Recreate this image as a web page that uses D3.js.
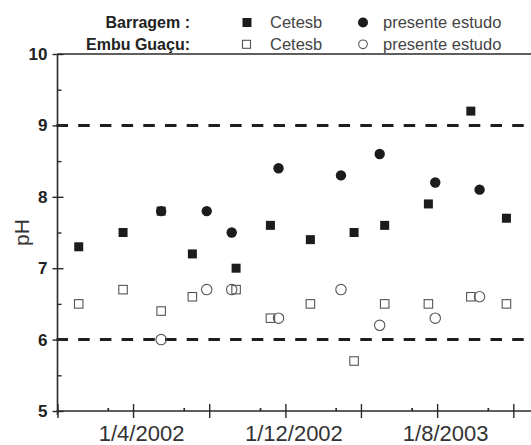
<!DOCTYPE html>
<html>
<head>
<meta charset="utf-8">
<script src="https://cdn.jsdelivr.net/npm/d3@7"></script>
<style>
  html, body { margin: 0; padding: 0; background: #fff; }
  svg { display: block; font-family: "Liberation Sans", Arial, sans-serif; }
</style>
</head>
<body>
<svg id="chart" width="531" height="445"></svg>
<script>
// ---------- data ----------
const cetesbDates = ["2002-01-04","2002-03-16","2002-05-16","2002-07-05","2002-09-13","2002-11-07",
                     "2003-01-10","2003-03-21","2003-05-09","2003-07-18","2003-09-24","2003-11-20"];
const barragemCetesb = [7.3, 7.5, 7.8, 7.2, 7.0, 7.6, 7.4, 7.5, 7.6, 7.9, 9.2, 7.7];
const embuCetesb     = [6.5, 6.7, 6.4, 6.6, 6.7, 6.3, 6.5, 5.7, 6.5, 6.5, 6.6, 6.5];

const studyDates = ["2002-05-16","2002-07-28","2002-09-06","2002-11-20",
                    "2003-02-28","2003-05-01","2003-07-29","2003-10-08"];
const barragemStudy = [7.8, 7.8, 7.5, 8.4, 8.3, 8.6, 8.2, 8.1];
const embuStudy     = [6.0, 6.7, 6.7, 6.3, 6.7, 6.2, 6.3, 6.6];

const xMajorTicks  = ["2001-12-01","2002-04-01","2002-08-01","2002-12-01","2003-04-01","2003-08-01","2003-12-01"];
const xTickLabels  = ["", "1/4/2002", "", "1/12/2002", "", "1/8/2003", ""];
const yMajorTicks  = [5, 6, 7, 8, 9, 10];
const yMinorTicks  = [5.5, 6.5, 7.5, 8.5, 9.5];
const limitLines   = [6, 9];

const legendGroups = ["Barragem :", "Embu Guaçu:"];
const legendSeries = ["Cetesb", "presente estudo"];
const yTitle = "pH";

// ---------- setup ----------
const W = 531, H = 445;
const parse = d3.utcParse("%Y-%m-%d");
const svg = d3.select("#chart");

const x = d3.scaleUtc()
  .domain([parse("2001-12-01"), parse("2003-12-01")])
  .range([57.5, 513.3]);
const y = d3.scaleLinear().domain([5, 10]).range([411, 54]);

const axisColor = "#2a2a2a";
const xLeft = x.range()[0], xRight = W;

// ---------- reference dashed lines ----------
svg.append("g").selectAll("line").data(limitLines).join("line")
  .attr("x1", xLeft - 1).attr("x2", xRight)
  .attr("y1", d => y(d)).attr("y2", d => y(d))
  .attr("stroke", "#1e1e1e").attr("stroke-width", 3)
  .attr("stroke-dasharray", "11.5,10.2");

// ---------- x axis ----------
const majorDates = xMajorTicks.map(parse);
const minorDates = [];
for (let i = 0; i < majorDates.length - 1; i++) {
  const interp = d3.interpolateDate(majorDates[i], majorDates[i + 1]);
  minorDates.push(interp(1 / 3), interp(2 / 3));
}
const gx = svg.append("g").attr("transform", `translate(0,${y(5)})`)
  .call(d3.axisBottom(x).tickValues(majorDates).tickSize(7).tickPadding(7)
        .tickFormat((d, i) => xTickLabels[i]));
gx.select(".domain").remove();
gx.append("line").attr("x1", xLeft - 1).attr("x2", xRight)
  .attr("stroke", axisColor).attr("stroke-width", 1.6);
gx.selectAll(".tick line").attr("stroke", axisColor).attr("stroke-width", 1.4)
  .attr("y1", -7).attr("y2", 7);
gx.selectAll(".tick text").attr("font-size", 22).attr("fill", "#333")
  .attr("dx", 8).attr("font-family", "'Liberation Sans', Arial, sans-serif");

const gxm = svg.append("g").attr("transform", `translate(0,${y(5)})`)
  .call(d3.axisTop(x).tickValues(minorDates).tickSize(3).tickFormat(""));
gxm.select(".domain").remove();
gxm.selectAll(".tick line").attr("stroke", axisColor).attr("stroke-width", 1.4);

// ---------- y axis ----------
const gy = svg.append("g").attr("transform", `translate(${xLeft},0)`)
  .call(d3.axisLeft(y).tickValues(yMajorTicks).tickSize(5).tickPadding(5).tickFormat(d3.format("d")));
gy.select(".domain").remove();
gy.append("line").attr("y1", y(10)).attr("y2", y(5) + 4)
  .attr("stroke", axisColor).attr("stroke-width", 1.6);
gy.selectAll(".tick line").attr("stroke", axisColor).attr("stroke-width", 1.4)
  .attr("x1", 6);
gy.selectAll(".tick text").attr("font-size", 17).attr("font-weight", "bold").attr("fill", "#222")
  .attr("font-family", "'Liberation Sans', Arial, sans-serif");

const gym = svg.append("g").attr("transform", `translate(${xLeft},0)`)
  .call(d3.axisRight(y).tickValues(yMinorTicks).tickSize(4).tickFormat(""));
gym.select(".domain").remove();
gym.selectAll(".tick line").attr("stroke", axisColor).attr("stroke-width", 1.4);

// top frame
svg.append("line").attr("x1", xLeft).attr("x2", xRight)
  .attr("y1", y(10)).attr("y2", y(10))
  .attr("stroke", axisColor).attr("stroke-width", 1.6);

// y title
svg.append("text").attr("transform", `translate(29,${(y(5) + y(10)) / 2}) rotate(-90)`)
  .attr("text-anchor", "middle").attr("font-size", 21).attr("fill", "#333")
  .text(yTitle);

// ---------- markers ----------
const sq = 9, sqOpen = 8.5, rFill = 5.2, rOpen = 5.2;
const cet = cetesbDates.map(parse), stu = studyDates.map(parse);

svg.append("g").selectAll("rect").data(barragemCetesb).join("rect")
  .attr("x", (d, i) => x(cet[i]) - sq / 2).attr("y", d => y(d) - sq / 2)
  .attr("width", sq).attr("height", sq).attr("fill", "#1c1c1c");

svg.append("g").selectAll("circle").data(barragemStudy).join("circle")
  .attr("cx", (d, i) => x(stu[i])).attr("cy", d => y(d)).attr("r", rFill)
  .attr("fill", "#1c1c1c");

svg.append("g").selectAll("rect").data(embuCetesb).join("rect")
  .attr("x", (d, i) => x(cet[i]) - sqOpen / 2).attr("y", d => y(d) - sqOpen / 2)
  .attr("width", sqOpen).attr("height", sqOpen)
  .attr("fill", "none").attr("stroke", "#555").attr("stroke-width", 1.1);

svg.append("g").selectAll("circle").data(embuStudy).join("circle")
  .attr("cx", (d, i) => x(stu[i])).attr("cy", d => y(d)).attr("r", rOpen)
  .attr("fill", "none").attr("stroke", "#555").attr("stroke-width", 1.1);

// ---------- legend ----------
const leg = svg.append("g");
const rowsY = [28, 50];
leg.selectAll("text.grp").data(legendGroups).join("text").attr("class", "grp")
  .attr("x", 190).attr("y", (d, i) => rowsY[i])
  .attr("text-anchor", "end").attr("font-size", 16).attr("font-weight", "bold").attr("fill", "#222")
  .text(d => d);
legendGroups.forEach((g, i) => {
  const ry = rowsY[i];
  leg.selectAll(null).data(legendSeries).join("text")
    .attr("x", (d, j) => j === 0 ? 270 : 383).attr("y", ry)
    .attr("font-size", 16.5).attr("fill", "#444").text(d => d);
});
// row 1: filled
leg.append("rect").attr("x", 247 - sq / 2).attr("y", 22.5 - sq / 2)
  .attr("width", sq).attr("height", sq).attr("fill", "#1c1c1c");
leg.append("circle").attr("cx", 363).attr("cy", 22.5).attr("r", 5).attr("fill", "#1c1c1c");
// row 2: open
leg.append("rect").attr("x", 246.5 - 4).attr("y", 44.3 - 4)
  .attr("width", 8).attr("height", 8).attr("fill", "none").attr("stroke", "#555").attr("stroke-width", 1.1);
leg.append("circle").attr("cx", 363).attr("cy", 44.3).attr("r", 4.3)
  .attr("fill", "none").attr("stroke", "#555").attr("stroke-width", 1.1);
</script>
</body>
</html>
